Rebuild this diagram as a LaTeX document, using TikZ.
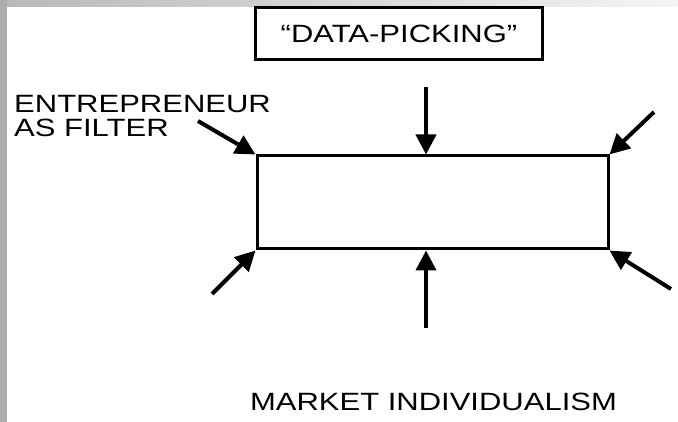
\documentclass[tikz,border=0pt]{standalone}
\usepackage{fontspec}
\setmainfont{Liberation Sans}
\usetikzlibrary{arrows.meta}
\tikzset{
  push/.style={line width=4pt,-{Triangle[length=20pt,width=20pt]}},
  caps/.style={font=\fontsize{25}{24}\selectfont,xscale=1.24,inner sep=0pt}
}
\begin{document}
\begin{tikzpicture}[x=1pt,y=-1pt]
  \fill[white] (0,0) rectangle (678,422);
  \fill[gray!65] (0,0) rectangle (7,422);
  \shade[left color=gray!55,right color=gray!8] (7,0) rectangle (678,7);

  \node[caps,draw,line width=3pt,minimum width=231pt,minimum height=52pt] (pick) at (399,34) {“DATA-PICKING”};
  \node[draw,line width=3pt,minimum width=351pt,minimum height=93pt] (core) at (432.5,202.5) {};
  \node[caps,anchor=base west,align=left] (filter) at (14,137) {ENTREPRENEUR\\AS FILTER};
  \node[caps,anchor=base] (market) at (433.5,410) {MARKET INDIVIDUALISM};

  \coordinate (nw) at (198,121);
  \coordinate (ne) at (654,112);
  \coordinate (sw) at (212,294);
  \coordinate (se) at (671,289);
  \coordinate (n) at (426,87);
  \coordinate (s) at (426,328);
  \draw[push] (nw) -- (core.north west);
  \draw[push] (ne) -- (core.north east);
  \draw[push] (sw) -- (core.south west);
  \draw[push] (se) -- (core.south east);
  \draw[push] (n) -- (n |- core.north);
  \draw[push] (s) -- (s |- core.south);
\end{tikzpicture}
\end{document}
